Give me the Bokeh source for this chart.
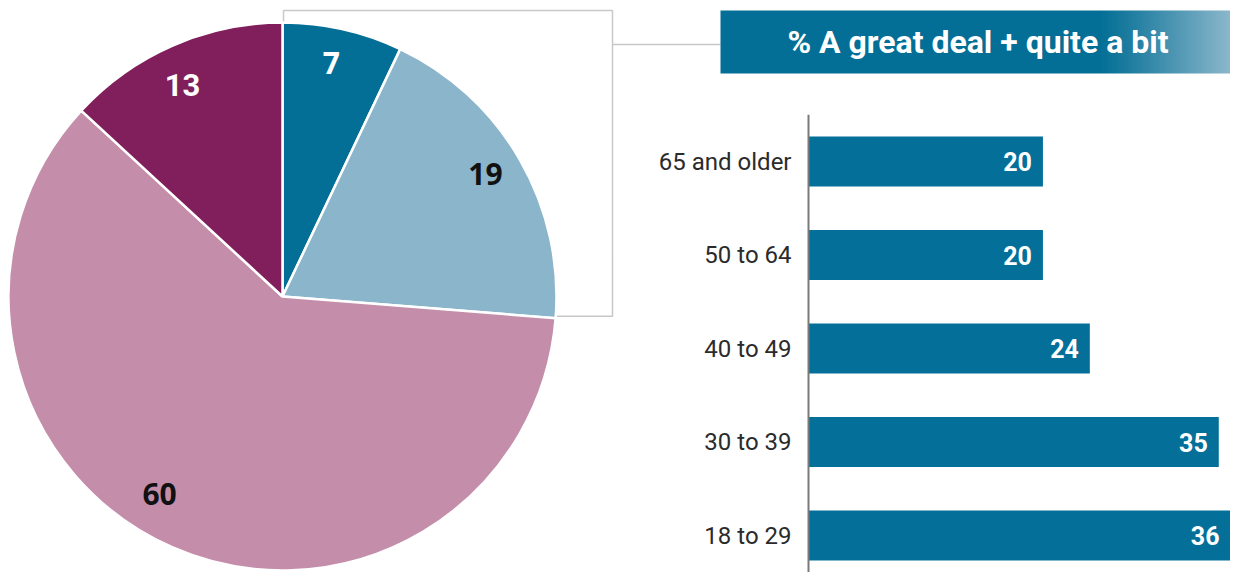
import numpy as np
from bokeh.plotting import figure
from bokeh.models import Range1d, ColumnDataSource
from bokeh.core.properties import value
from bokeh.embed import file_html
from bokeh.resources import INLINE

# ---------------- data ----------------
pie_values = [7, 19, 60, 13]
pie_labels = ["7", "19", "60", "13"]

age_groups = ["18 to 29", "30 to 39", "40 to 49", "50 to 64", "65 and older"]
age_values = [36, 35, 24, 20, 20]
age_labels = ["36", "35", "24", "20", "20"]

title_text = "% A great deal + quite a bit"

# ---------------- styles / layout ----------------
pie_colors = ["#036f96", "#8ab5ca", "#c48eab", "#801f5b"]
pie_label_colors = ["#ffffff", "#111111", "#111111", "#ffffff"]
pie_label_fonts = ["Open Sans", "Open Sans", "Open Sans", "Roboto"]
pie_label_sizes = ["30px", "30px", "30px", "31px"]
pie_label_shift_deg = [0.7, 0, -8, 1.6]
pie_label_lift_px = [4, 5, 2, 0]
bar_color = "#04709a"
frame_grey = "#c8c8c8"

W, H = 1230, 572
p = figure(width=W, height=H, x_range=Range1d(0, W), y_range=Range1d(0, H),
           output_backend="svg", toolbar_location=None,
           x_axis_location=None, y_axis_location=None,
           min_border=0, outline_line_color=None)
p.grid.visible = False

# ---------------- pie ----------------
cx, cy, R = 282, 276, 274
vals = np.array(pie_values, dtype=float)
frac = vals / vals.sum()
cum = np.concatenate([[0.0], np.cumsum(frac)])
a_start = np.pi / 2 - 2 * np.pi * cum[:-1]
a_end = np.pi / 2 - 2 * np.pi * cum[1:]

# box around first two slices + connector
box_left = cx + 1
box_right = cx + R + 56
box_top = cy + R + 12
box_bottom = cy + R * np.sin(a_end[1]) + 2
p.quad(left=box_left, right=box_right, bottom=box_bottom, top=box_top,
       fill_color=None, line_color=frame_grey, line_width=1.5)

p.wedge(x=cx, y=cy, radius=R, start_angle=a_end, end_angle=a_start,
        direction="anticlock", fill_color=pie_colors,
        line_color="white", line_width=2.5)

conn_y = 528
p.segment(x0=box_right, y0=conn_y, x1=720, y1=conn_y, line_color=frame_grey, line_width=1.5)

mid = (a_start + a_end) / 2 + np.deg2rad(pie_label_shift_deg)
lr = 0.855 * R
for i in range(len(pie_values)):
    p.text(x=[cx + lr * np.cos(mid[i])], y=[cy + lr * np.sin(mid[i]) + pie_label_lift_px[i]],
           text=[pie_labels[i]], text_align="center", text_baseline="middle",
           text_font=value(pie_label_fonts[i]), text_font_style="bold",
           text_font_size=pie_label_sizes[i], text_color=pie_label_colors[i])

# ---------------- title box with gradient ----------------
gx, gy, gw, gh = 720, 499, 510, 63
img = np.empty((gh, gw), dtype=np.uint32)
view = img.view(dtype=np.uint8).reshape((gh, gw, 4))
c0 = np.array([4, 111, 150], dtype=float)
c1 = np.array([140, 184, 204], dtype=float)
xs = np.arange(gw)
t = np.clip((xs - 378) / (gw - 1 - 378), 0, 1) ** 1.1
cols = c0[None, :] * (1 - t[:, None]) + c1[None, :] * t[:, None]
for k in range(3):
    view[:, :, k] = cols[:, k].astype(np.uint8)[None, :]
view[:, :, 3] = 255
p.image_rgba(image=[img], x=gx, y=gy, dw=gw, dh=gh)
p.text(x=[977.5], y=[gy + gh / 2], text=[title_text], text_align="center",
       text_baseline="middle", text_font=value("Roboto"), text_font_style="bold",
       text_font_size="32px", text_color="white")

# ---------------- bars (own scales) ----------------
BAR_ZERO_PX = 808      # pixel of value 0
BAR_MAX_PX = 1230      # pixel of the largest value
ROW_PX = 93.5          # pixel spacing between rows
ROW0_PX = 37           # pixel (from bottom) of first row center
vmax = max(age_values)
ppu = (BAR_MAX_PX - BAR_ZERO_PX) / vmax
p.extra_x_ranges = {"bars": Range1d(-BAR_ZERO_PX / ppu, (W - BAR_ZERO_PX) / ppu)}
p.extra_y_ranges = {"rows": Range1d(-ROW0_PX / ROW_PX, (H - ROW0_PX) / ROW_PX)}

n = len(age_groups)
src = ColumnDataSource(dict(pos=list(range(n)), cat=age_groups,
                            v=age_values, lab=age_labels, zero=[0] * n))
p.hbar(y="pos", left=0, right="v", height=0.535, source=src,
       fill_color=bar_color, line_color=None,
       x_range_name="bars", y_range_name="rows")
p.text(x="v", y="pos", text="lab", source=src, x_offset=-11,
       text_align="right", text_baseline="middle",
       text_font=value("Roboto"), text_font_style="bold",
       text_font_size="25px", text_color="white",
       x_range_name="bars", y_range_name="rows")
# category axis
p.segment(x0=0, y0=-0.5 - 0.2, x1=0, y1=n - 0.5, line_color="#7a7a7a", line_width=2,
          x_range_name="bars", y_range_name="rows")
p.text(x="zero", y="pos", text="cat", source=src, x_offset=-17,
       text_align="right", text_baseline="middle",
       text_font=value("Roboto"), text_font_size="24px", text_color="#2b2b2b",
       x_range_name="bars", y_range_name="rows")

open("out.html", "w").write(file_html(p, INLINE))
